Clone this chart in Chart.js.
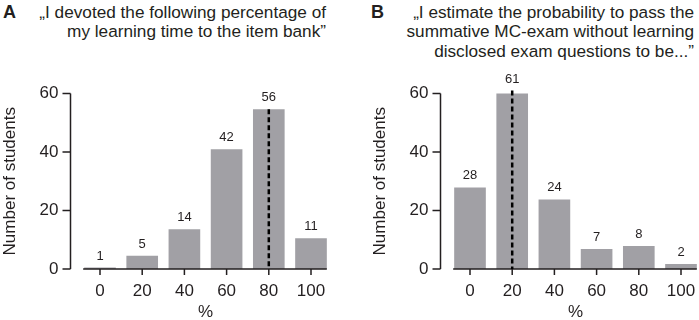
<!DOCTYPE html>
<html>
<head>
<meta charset="utf-8">
<script src="https://cdn.jsdelivr.net/npm/chart.js@4.4.0/dist/chart.umd.min.js"></script>
<style>
  html, body { margin: 0; padding: 0; background: #fff; overflow: hidden; }
  body { width: 699px; height: 320px; position: relative; font-family: "Liberation Sans", Arial, sans-serif; color: #231f20; }
  .panel { position: absolute; top: 0; width: 349px; height: 320px; }
  .letter { position: absolute; top: 2px; font-size: 18px; font-weight: bold; line-height: 20px; }
  .title { position: absolute; top: 3px; font-size: 17.2px; line-height: 19.3px; text-align: right; white-space: nowrap; }
</style>
</head>
<body>
<div class="letter" style="left:3px">A</div>
<div class="title" style="right:373px">„I devoted the following percentage of<br>my learning time to the item bank”</div>
<div class="letter" style="left:371px">B</div>
<div class="title" style="right:5px">„I estimate the probability to pass the<br>summative MC-exam without learning<br>disclosed exam questions to be...”</div>

<div class="panel" style="left:0"><canvas id="chartA" width="349" height="320"></canvas></div>
<div class="panel" style="left:370px"><canvas id="chartB" width="349" height="320"></canvas></div>

<script>
// --- DATA ---
const categories = ['0', '20', '40', '60', '80', '100'];
const yTicks = [0, 20, 40, 60];

// A: bar heights as drawn, labels as printed
const barsA = [0.5, 4.5, 13.6, 40.9, 54.6, 10.5];
const labelsA = [1, 5, 14, 42, 56, 11];
const medianA = '80';

// B
const barsB = [27.9, 61, 23.8, 6.8, 7.9, 1.7];
const labelsB = [28, 61, 24, 7, 8, 2];
const medianB = '20';

const INK = '#231f20';
const BAR = '#a1a0a5';
const FONT = '"Liberation Sans", Arial, sans-serif';

// axes drawn Prism-style (offset y axis, x axis spanning the bars)
const axesPlugin = {
    id: 'prismAxes',
    afterDatasetsDraw(chart, args, opts) {
        const ctx = chart.ctx;
        const y = chart.scales.y;
        const x = chart.scales.x;
        const bars = chart.getDatasetMeta(0).data;
        const y0 = y.getPixelForValue(0);
        const axisX = chart.chartArea.left - 8.4;

        ctx.save();
        ctx.strokeStyle = INK;
        ctx.lineWidth = 1.5;

        // y axis + ticks
        ctx.beginPath();
        ctx.moveTo(axisX, y.getPixelForValue(yTicks[yTicks.length - 1]));
        ctx.lineTo(axisX, y0);
        yTicks.forEach(v => {
            const py = y.getPixelForValue(v);
            ctx.moveTo(axisX - 8, py);
            ctx.lineTo(axisX, py);
        });
        ctx.stroke();

        // x axis + ticks
        const first = bars[0], last = bars[bars.length - 1];
        ctx.beginPath();
        ctx.moveTo(first.x - first.width / 2 - 1, y0);
        ctx.lineTo(last.x + last.width / 2, y0);
        categories.forEach((c, i) => {
            const px = x.getPixelForValue(i);
            ctx.moveTo(px, y0);
            ctx.lineTo(px, y0 + 6);
        });
        ctx.stroke();

        // dashed median line
        const m = bars[categories.indexOf(opts.median)];
        ctx.setLineDash([5, 3]);
        ctx.lineWidth = 2.5;
        ctx.strokeStyle = '#000';
        ctx.beginPath();
        ctx.moveTo(m.x, m.y);
        ctx.lineTo(m.x, y0);
        ctx.stroke();
        ctx.setLineDash([]);

        // value labels
        ctx.fillStyle = INK;
        ctx.font = '13px ' + FONT;
        ctx.textAlign = 'center';
        ctx.textBaseline = 'middle';
        bars.forEach((b, i) => {
            ctx.fillText(String(opts.labels[i]), b.x, b.y - 11.5);
        });
        ctx.restore();
    }
};

function makeChart(id, bars, labels, median) {
    return new Chart(document.getElementById(id), {
        type: 'bar',
        data: {
            labels: categories,
            datasets: [{
                data: bars,
                backgroundColor: BAR,
                borderWidth: 0,
                categoryPercentage: 1,
                barPercentage: 0.75
            }]
        },
        options: {
            responsive: false,
            animation: false,
            events: [],
            layout: { padding: { top: 93.5, right: 16.9, left: 0, bottom: 0 } },
            plugins: {
                legend: { display: false },
                tooltip: { enabled: false },
                prismAxes: { labels: labels, median: median }
            },
            scales: {
                x: {
                    offset: true,
                    grid: { display: false, drawTicks: false },
                    border: { display: false },
                    ticks: { color: INK, font: { family: FONT, size: 17 }, padding: 12, maxRotation: 0 },
                    title: { display: true, text: '%', color: INK, font: { family: FONT, size: 17 }, padding: { top: 0, bottom: -3 } },
                    afterFit: s => { s.height = 51; }
                },
                y: {
                    min: 0,
                    max: 60,
                    grid: { display: false, drawTicks: false },
                    border: { display: false },
                    ticks: { stepSize: 20, color: INK, font: { family: FONT, size: 17 }, padding: 20.4 },
                    title: { display: true, text: 'Number of students', color: INK, font: { family: FONT, size: 17 }, padding: 0 },
                    afterFit: s => { s.width = 78.9; }
                }
            }
        },
        plugins: [axesPlugin]
    });
}

makeChart('chartA', barsA, labelsA, medianA);
makeChart('chartB', barsB, labelsB, medianB);
</script>
</body>
</html>
